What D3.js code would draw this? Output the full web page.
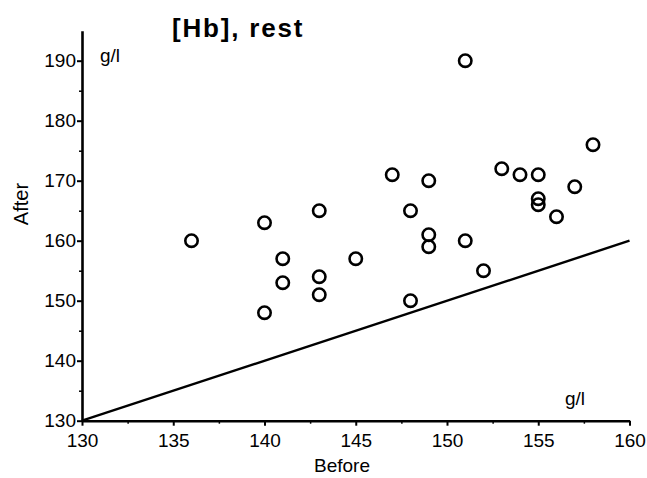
<!DOCTYPE html>
<html>
<head>
<meta charset="utf-8">
<script src="https://cdn.jsdelivr.net/npm/d3@7"></script>
<style>
  html, body { margin: 0; padding: 0; background: #fff; }
  svg { display: block; }
  text { font-family: "Liberation Sans", Arial, Helvetica, sans-serif; fill: #000; }
</style>
</head>
<body>
<svg id="chart" width="647" height="478"></svg>
<script>
// Data: [Hb] at rest, before vs after (g/l)
const before = [136,140,140,141,141,143,143,143,145,147,148,148,149,149,149,151,151,152,153,154,155,155,155,156,157,158];
const after  = [160,163,148,157,153,165,154,151,157,171,165,150,170,161,159,190,160,155,172,171,171,167,166,164,169,176];
const xTicks = [130,135,140,145,150,155,160];
const xMinor = [132.5,137.5,142.5,147.5,152.5,157.5];
const yTicks = [130,140,150,160,170,180,190];
const yMinor = [135,145,155,165,175,185];
const identityLine = [130,160];
const title = "[Hb], rest";
const xLabel = "Before";
const yLabel = "After";
const unit = "g/l";

const svg = d3.select("#chart");
const x = d3.scaleLinear().domain([130,160]).range([82,629.5]);
const y = d3.scaleLinear().domain([130,195]).range([420.7,30.7]);

// minor ticks
svg.append("g").attr("transform",`translate(0,${y(130)})`)
  .call(d3.axisBottom(x).tickValues(xMinor).tickSize(3).tickSizeOuter(0).tickFormat(""))
  .call(g=>g.select(".domain").remove())
  .call(g=>g.selectAll("line").attr("stroke-width",1.5));
svg.append("g").attr("transform",`translate(${x(130)},0)`)
  .call(d3.axisLeft(y).tickValues(yMinor).tickSize(3).tickSizeOuter(0).tickFormat(""))
  .call(g=>g.select(".domain").remove())
  .call(g=>g.selectAll("line").attr("stroke-width",1.5));

// major axes
const xa = svg.append("g").attr("transform",`translate(0,${y(130)})`)
  .call(d3.axisBottom(x).tickValues(xTicks).tickSize(5).tickSizeOuter(0).tickPadding(8).tickFormat(d3.format("d")));
const ya = svg.append("g").attr("transform",`translate(${x(130)},0)`)
  .call(d3.axisLeft(y).tickValues(yTicks).tickSize(5).tickSizeOuter(0).tickPadding(1).tickFormat(d3.format("d")));
[xa,ya].forEach(a=>{
  a.select(".domain").attr("stroke-width",2.6);
  a.selectAll(".tick line").attr("stroke-width",2);
  a.selectAll(".tick text").attr("font-size",19).attr("font-family","Liberation Sans, Arial, sans-serif").attr("fill","#000");
});

// identity line
svg.append("line")
  .attr("x1",x(identityLine[0])).attr("y1",y(identityLine[0]))
  .attr("x2",x(identityLine[1])).attr("y2",y(identityLine[1]))
  .attr("stroke","#000").attr("stroke-width",2.4);

// points
svg.append("g").selectAll("circle").data(before.map((b,i)=>[b,after[i]]))
  .join("circle")
  .attr("cx",d=>x(d[0])).attr("cy",d=>y(d[1])).attr("r",6.2)
  .attr("fill","none").attr("stroke","#000").attr("stroke-width",2.6);

// texts
svg.append("text").attr("x",172).attr("y",37).attr("font-size",26).attr("font-weight","bold")
  .attr("letter-spacing",1.8).text(title);
svg.append("text").attr("x",100).attr("y",62).attr("font-size",19).text(unit);
svg.append("text").attr("x",565).attr("y",405).attr("font-size",19).text(unit);
svg.append("text").attr("x",342).attr("y",472).attr("font-size",19).attr("text-anchor","middle").text(xLabel);
svg.append("text").attr("transform","translate(28,204) rotate(-90)").attr("font-size",20).attr("text-anchor","middle").text(yLabel);
</script>
</body>
</html>
